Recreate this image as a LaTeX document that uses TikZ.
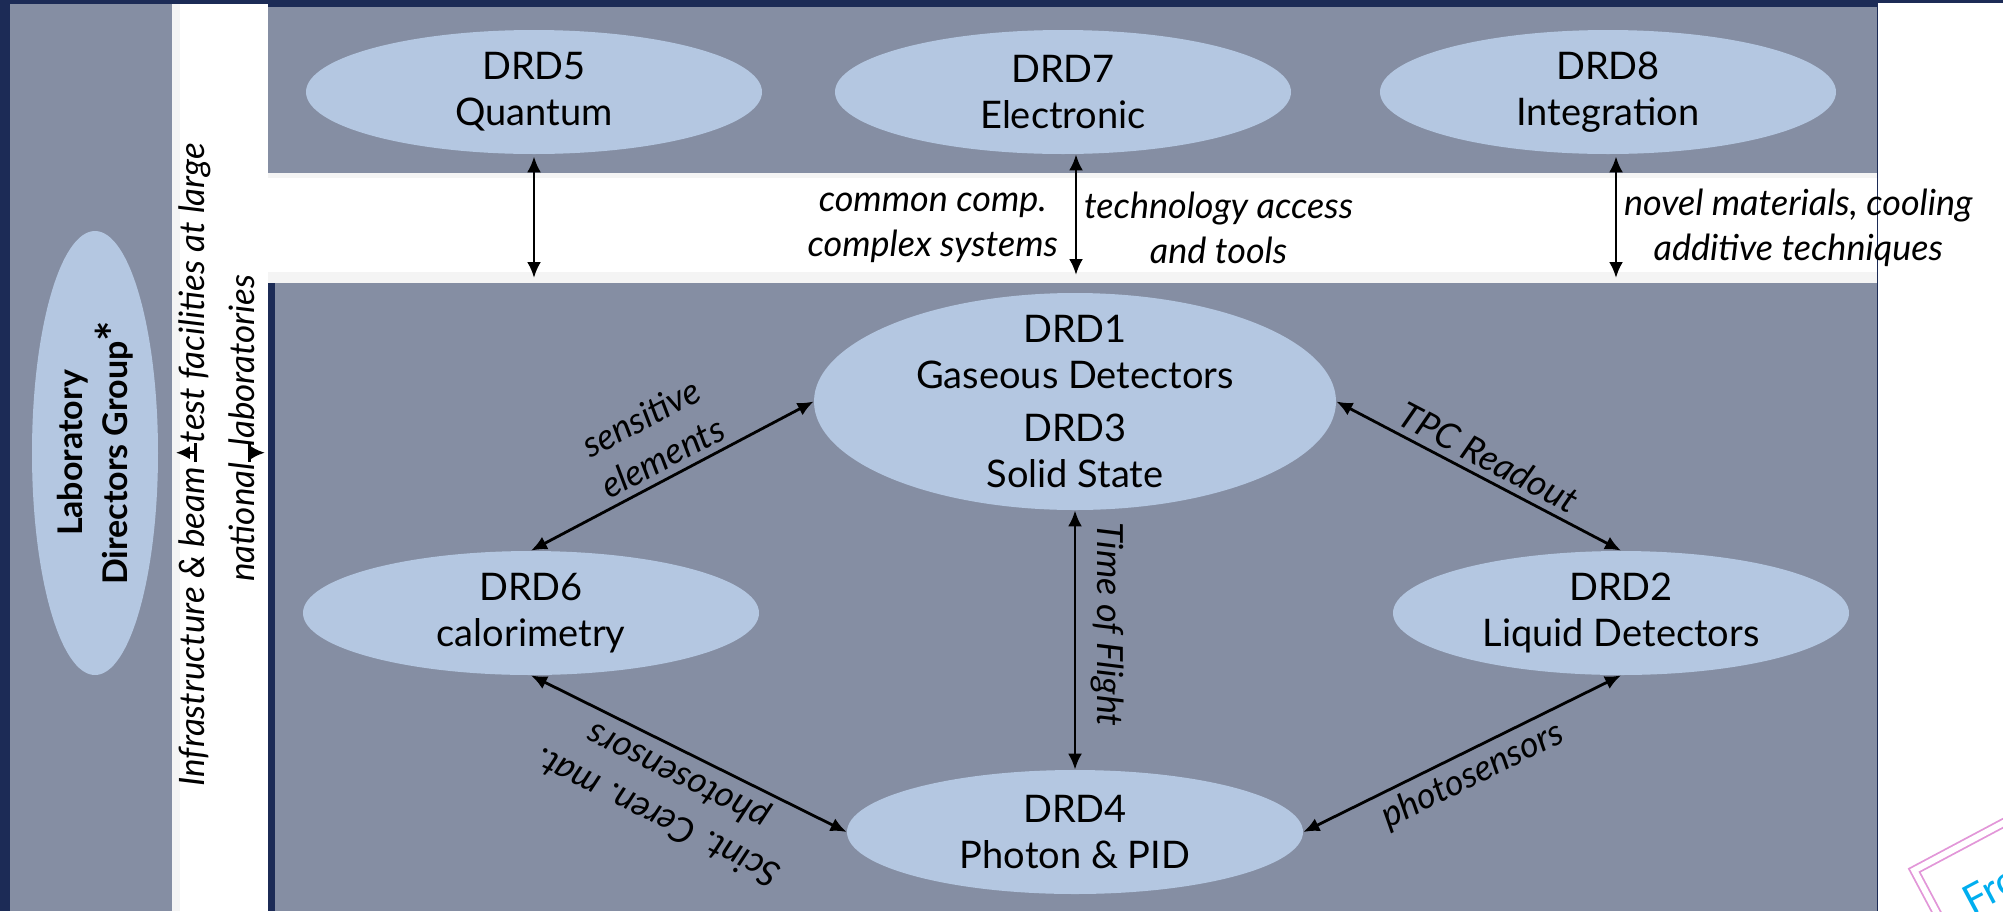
\documentclass[tikz,border=0pt]{standalone}
\usepackage{fontspec}
\setmainfont{Lato}
\usetikzlibrary{shapes,arrows.meta,positioning}
\definecolor{navy}{RGB}{28,43,86}
\definecolor{panelgray}{RGB}{133,142,163}
\definecolor{drdblue}{RGB}{180,199,225}
\definecolor{shadegray}{RGB}{244,244,244}
\definecolor{stamppink}{RGB}{226,150,216}
\definecolor{stampcyan}{RGB}{0,174,239}
\tikzstyle{drd} = [ellipse, fill=drdblue, text=black, align=center, inner sep=0pt, minimum width=228pt, minimum height=62pt, font=\fontsize{19}{23}\selectfont]
\tikzstyle{ldg} = [ellipse, fill=drdblue, text=black, align=center, inner sep=0pt, minimum width=222pt, minimum height=63pt, font=\bfseries\fontsize{17}{22.5}\selectfont]
\tikzstyle{panel} = [rectangle, fill=panelgray, inner sep=0pt, anchor=north west]
\tikzstyle{note} = [draw=none, fill=none, align=center, font=\fontsize{18}{22.5}\selectfont\itshape]
\tikzstyle{link} = [line width=1.4pt, >={Latex[length=8pt,width=7pt]}, <->]
\tikzstyle{infra} = [draw, line width=1.4pt, {Bar[width=9.5pt]}-{Latex[length=7pt,width=6.5pt]}]
\tikzstyle{stamp} = [rectangle, draw=stamppink, double=white, double distance=3pt, line width=0.9pt, text=stampcyan, font=\fontsize{20}{20}\selectfont, inner xsep=15pt, inner ysep=19pt]

\begin{document}
\begin{tikzpicture}[x=0.5pt, y=0.5pt, on grid]
\useasboundingbox (0,0) rectangle (2003,-911);
\clip (0,0) rectangle (2003,-911);

% background =============================
\fill[white] (0,0) rectangle (2003,-911);
\fill[navy] (0,0) rectangle (1878,-911);
\fill[navy] (1878,0) rectangle (2003,-3);
\node[panel, minimum width=81pt, minimum height=453.5pt] (leftpanel) at (10,-4) {};
\fill[white] (172,-4) rectangle (268,-911);
\fill[shadegray] (172,-4) rectangle (180,-911);
\node[panel, minimum width=804.5pt, minimum height=83pt] (toppanel) at (268,-7) {};
\fill[white] (268,-173) rectangle (1877,-283);
\fill[shadegray] (268,-173) rectangle (1877,-178);
\fill[shadegray] (268,-272) rectangle (1877,-283);
\node[panel, minimum width=801pt, minimum height=314pt] (lowpanel) at (275,-283) {};

% groups =============================
\node[drd] (drd7) at (1063,-92) {DRD7\\Electronic};
\node[drd, left=264.5pt of drd7] (drd5) {DRD5\\Quantum};
\node[drd, right=272.5pt of drd7] (drd8) {DRD8\\Integration};
\node[drd, minimum width=261pt, minimum height=108.5pt, inner ysep=-9pt] (drd1) at (1075,-401.5) {DRD1\\Gaseous Detectors\\[3.5pt]DRD3\\Solid State};
\node[drd, below=215.25pt of drd1] (drd4) {DRD4\\Photon \& PID};
\node[drd, below left=105.75pt and 272pt of drd1] (drd6) {DRD6\\calorimetry};
\node[drd, below right=105.75pt and 273pt of drd1] (drd2) {DRD2\\Liquid Detectors};
\node[ldg, rotate=90] (ldg) at (95,-453) {Laboratory\\Directors Group\raisebox{-2pt}{\fontsize{24}{24}\selectfont *}};

% infrastructure strip
\node[note, rotate=90, font=\fontsize{17.5}{21}\selectfont\itshape] (infra1) at (195,-465) {Infrastructure \& beam\hspace{12pt}test facilities at large};
\node[note, rotate=90, font=\fontsize{17.5}{21}\selectfont\itshape] (infra2) at (242,-428) {national\hspace{8pt}laboratories};
\coordinate (infraL) at (196.7,-452.7);
\coordinate (infraR) at (248,-452.7);
\draw[infra, shorten >=1.5pt] (infraL) -- (infraL -| leftpanel.east);
\draw[infra, shorten >=5pt] (infraR) -- (infraR -| lowpanel.west);

% edges
\path[link] (drd5.south) edge [shorten <=1pt, shorten >=2.5pt] (drd5.south |- lowpanel.north);
\path[link] ([xshift=6.5pt]drd7.south) edge [shorten >=4pt]
  node[note, left, pos=0.57, xshift=-5pt] {common comp.\\complex systems}
  node[note, right, pos=0.57] {technology access\\and tools}
  ([xshift=6.5pt]drd7.south |- lowpanel.north);
\path[link] ([xshift=4pt]drd8.south) edge [shorten <=1pt, shorten >=2.5pt]
  node[note, right, pos=0.57] {novel materials, cooling\\additive techniques}
  ([xshift=4pt]drd8.south |- lowpanel.north);

\path[link] (drd6.north) edge node[note, sloped, above] {sensitive\\elements} (drd1.west);
\path[link] (drd1.east) edge node[note, sloped, above] {TPC Readout} (drd2.north);
\path[link] (drd1.south) edge node[note, sloped, allow upside down, above=4pt, pos=0.44] {Time of Flight} (drd4.north);
\path[link] (drd4.west) edge node[note, sloped, allow upside down, above] {Scint. Ceren. mat.\\photosensors} (drd6.south);
\path[link] (drd4.east) edge node[note, sloped, below] {photosensors} (drd2.south);

% stamp
\node[stamp, rotate=28, anchor=north west] (stamp) at (1913,-870) {From};

\end{tikzpicture}
\end{document}
